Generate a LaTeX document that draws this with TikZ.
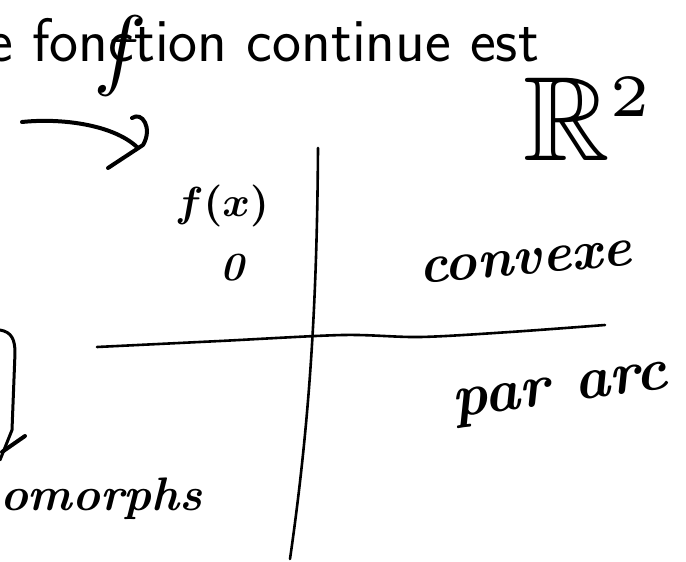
\documentclass[tikz,border=0pt]{standalone}
\usepackage{amssymb}
\begin{document}
\begin{tikzpicture}[x=1pt,y=-1pt,
  hand/.style={line width=4pt,line cap=round,line join=round},
  axisline/.style={line width=2.6pt,line cap=round,line join=round},
  hw/.style={inner sep=0pt}]
\useasboundingbox (0,0) rectangle (686,562);
% printed line
\node[anchor=base west,inner sep=0pt,font=\sffamily\fontsize{61.5}{64}\selectfont] (title) at (-13,61) {e fonction continue est};
% handwritten f over the c
\node[hw] (fname) at (120,56) {\scalebox{9}{$f$}};
% hooked arrow
\coordinate (a0) at (22,122);
\coordinate (a1) at (137,147);
\coordinate (a2) at (132,118);
\coordinate (a3) at (108,168);
\draw[hand] (a0) .. controls (60,118) and (112,124) .. (a1);
\draw[hand] (a2) .. controls (142,111) and (153,128) .. (143,145) -- (a3);
% axes
\coordinate (vtop) at (318,148);
\coordinate (vbot) at (290,559);
\draw[axisline] (vtop) .. controls (317,300) and (310,420) .. (vbot);
\coordinate (hl) at (97,347);
\coordinate (hr) at (605,325);
\draw[axisline] plot[smooth] coordinates {(hl) (220,341) (343,335) (420,337) (510,332) (hr)};
% bracket at left
\coordinate (b0) at (0,330);
\coordinate (b1) at (0,460);
\draw[hand,line width=3pt] (b0) .. controls (12,332) and (15,340) .. (15,353) -- (12,430) -- (b1);
\draw[hand] (2,452) -- (25,436);
% handwritten labels
\node[hw] (fx) at (222,206) {\scalebox{4.2}{\boldmath$f(x)$}};
\node[hw,font=\bfseries\itshape\fontsize{40}{40}\selectfont] (zero) at (232,268) {0};
\node[hw] (R2) at (590,119) {\scalebox{12}{$\mathbb{R}^{\scriptscriptstyle 2}$}};
\node[hw,font=\bfseries\itshape\fontsize{55}{55}\selectfont,rotate=5] (convexe) at (525,262) {convexe};
\node[hw,font=\bfseries\itshape\fontsize{60}{60}\selectfont,rotate=8] (pararc) at (561,395) {par arc};
\node[hw,anchor=base west,font=\bfseries\itshape\fontsize{47}{47}\selectfont] (homeo) at (0,510) {omorphs};
\end{tikzpicture}
\end{document}
